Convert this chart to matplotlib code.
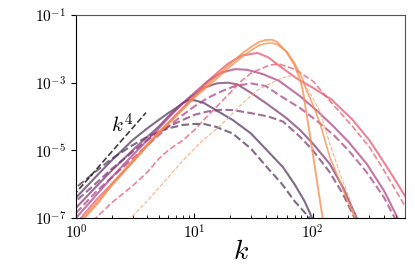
import numpy as np
import matplotlib
matplotlib.use("Agg")
import matplotlib.pyplot as plt
from matplotlib.ticker import FuncFormatter, LogLocator, NullFormatter, FixedLocator

plt.rcParams['mathtext.fontset'] = 'cm'
plt.rcParams['font.family'] = ['DejaVu Serif']

# ---- data (k, log10 E) ----
A_k = [0.9, 1, 1.5, 2, 3, 4, 5, 6, 7, 8, 9, 10, 12, 15, 21, 30, 41, 56, 70, 85, 100]
A_lg = [-6.6, -6.4, -5.75, -5.3, -4.7, -4.35, -4.1, -3.9, -3.75, -3.6, -3.52, -3.52, -3.6, -3.8, -4.1, -4.5, -5.0, -5.5, -6.0, -6.5, -7.05]

A2_k = [0.9, 1, 1.5, 2, 3, 4, 5, 6, 8, 10, 12, 15, 21, 30, 41, 55, 70, 94, 100]
A2_lg = [-6.3, -6.1, -5.6, -5.25, -4.85, -4.6, -4.45, -4.35, -4.25, -4.22, -4.22, -4.3, -4.5, -4.95, -5.5, -6.0, -6.5, -7.0, -7.15]

B_k = [0.9, 1, 1.5, 2, 3, 4, 5, 6, 8, 10, 12, 15.5, 19, 23, 30, 40, 60, 78, 100, 139, 180, 235, 250]
B_lg = [-6.9, -6.7, -6.05, -5.6, -5.0, -4.6, -4.3, -4.0, -3.6, -3.35, -3.15, -3.02, -3.0, -3.05, -3.3, -3.6, -4.05, -4.4, -4.8, -5.4, -6.1, -7.0, -7.2]

B2_k = [0.9, 1, 1.5, 2, 3, 4, 5, 6, 8, 10, 13, 17, 21, 30, 42, 56, 78, 100, 139, 180, 225, 240]
B2_lg = [-6.7, -6.5, -5.95, -5.55, -5.05, -4.7, -4.45, -4.3, -4.1, -3.95, -3.85, -3.8, -3.81, -3.9, -4.0, -4.15, -4.6, -5.0, -5.65, -6.3, -7.0, -7.2]

C_k = [0.95, 1, 1.5, 2, 3, 4, 5, 6, 8, 10, 13, 17, 22, 28, 38, 52, 78, 110, 150, 200, 285, 400, 520, 550]
C_lg = [-7.1, -7.0, -6.3, -5.8, -5.15, -4.7, -4.35, -4.05, -3.6, -3.3, -2.95, -2.7, -2.6, -2.62, -2.75, -2.95, -3.4, -3.85, -4.3, -4.75, -5.4, -6.2, -7.0, -7.2]

C2_k = [1, 1.1, 1.5, 2, 3, 4, 5, 6, 8, 10, 13, 17, 22, 30, 40, 52, 78, 110, 150, 200, 285, 400, 500, 530]
C2_lg = [-6.85, -6.7, -6.2, -5.8, -5.25, -4.85, -4.55, -4.3, -3.95, -3.7, -3.45, -3.25, -3.1, -3.02, -3.1, -3.37, -3.75, -4.15, -4.55, -5.0, -5.65, -6.4, -7.05, -7.2]

D_k = [1.05, 1.1, 1.5, 2, 3, 4, 5, 7, 10, 14, 19, 25, 34, 42, 52, 75, 100, 144, 217, 300, 389, 480, 600]
D_lg = [-7.1, -7.0, -6.45, -6.0, -5.35, -4.85, -4.5, -3.95, -3.4, -2.85, -2.45, -2.2, -2.12, -2.25, -2.5, -2.9, -3.15, -3.5, -4.1, -4.7, -5.3, -5.8, -6.35]

D2_k = [1.4, 1.47, 2, 3, 4, 5, 6, 8, 10, 12, 16, 20, 24, 30, 43, 52, 70, 100, 144, 217, 300, 400, 600]
D2_lg = [-7.1, -7.0, -6.55, -6.05, -5.65, -5.25, -5.0, -4.7, -4.4, -4.1, -3.65, -3.3, -3.0, -2.72, -2.48, -2.45, -2.6, -2.95, -3.6, -4.3, -4.9, -5.6, -6.65]

E1_k = [1.1, 1.15, 1.5, 2, 3, 5, 7, 10, 15, 20, 25, 30, 35, 40, 45, 50, 60, 70, 78, 82, 90, 100, 110, 121, 130]
E1_lg = [-7.1, -7.0, -6.55, -6.0, -5.3, -4.45, -3.95, -3.4, -2.85, -2.45, -2.15, -1.95, -1.8, -1.74, -1.73, -1.8, -2.1, -2.48, -2.92, -3.2, -4.08, -5.1, -6.06, -7.0, -7.7]

E2_k = [1.1, 1.15, 1.5, 2, 3, 5, 7, 10, 15, 20, 25, 30, 35, 40, 45, 50, 60, 70, 80, 88, 100, 115, 139, 170, 200, 226, 240]
E2_lg = [-7.15, -7.05, -6.6, -6.05, -5.35, -4.5, -4.0, -3.45, -2.92, -2.53, -2.25, -2.05, -1.9, -1.84, -1.83, -1.87, -2.08, -2.42, -2.8, -3.2, -3.65, -4.2, -5.2, -5.95, -6.55, -7.0, -7.3]

E3_k = [2.8, 2.9, 4, 6, 8, 11, 15, 18.6, 25.6, 35, 45, 56, 68, 80, 90, 100, 115, 139, 170, 200, 230]
E3_lg = [-7.1, -7.0, -6.5, -5.8, -5.3, -4.8, -4.4, -4.1, -3.6, -3.2, -3.0, -2.85, -2.78, -2.95, -3.2, -3.45, -3.85, -4.8, -5.7, -6.35, -7.0]

k4_k = [0.95, 3.9]
k4_amp = 10 ** -6.25

y_ticks = [1e-7, 1e-5, 1e-3, 1e-1]

# ---- styling ----
colors = {'A': '#4a2c57', 'B': '#7a2f6e', 'C': '#a83a80', 'D': '#e4506a', 'E': '#f68b4a'}

fig = plt.figure(figsize=(4.15, 2.77), dpi=100)
ax = fig.add_axes([76/415, 1-218/277, (405-76)/415, (218-15)/277])

def draw(k, lg, c, ls='-', lw=1.5, alpha=0.7):
    ax.plot(k, 10 ** np.array(lg), color=c, ls=ls, lw=lw, alpha=alpha)

draw(A_k, A_lg, colors['A'])
draw(A2_k, A2_lg, colors['A'], ls='--')
draw(B_k, B_lg, colors['B'])
draw(B2_k, B2_lg, colors['B'], ls='--')
draw(C_k, C_lg, colors['C'])
draw(C2_k, C2_lg, colors['C'], ls='--')
draw(D_k, D_lg, colors['D'])
draw(D2_k, D2_lg, colors['D'], ls='--', lw=1.2)
draw(E1_k, E1_lg, colors['E'], lw=1.4, alpha=0.75)
draw(E2_k, E2_lg, colors['E'], lw=1.2, alpha=0.75)
draw(E3_k, E3_lg, '#fb9f6b', ls='--', lw=0.8, alpha=0.8)

kk = np.array(k4_k)
ax.plot(kk, k4_amp * kk ** 4, color='k', ls='--', lw=1.2, alpha=0.75)
ax.text(2.45, 10 ** -4.25, r'$k^4$', fontsize=15, ha='center', va='center')

ax.set_xscale('log')
ax.set_yscale('log')
ax.set_xlim(1, 600)
ax.set_ylim(1e-7, 1e-1)

fmt = FuncFormatter(lambda v, p: r'$10^{%d}$' % int(round(np.log10(v))))
ax.xaxis.set_major_locator(FixedLocator([1, 10, 100]))
ax.xaxis.set_major_formatter(fmt)
ax.xaxis.set_minor_locator(LogLocator(base=10, subs=np.arange(2, 10), numticks=20))
ax.xaxis.set_minor_formatter(NullFormatter())
ax.yaxis.set_major_locator(FixedLocator(y_ticks))
ax.yaxis.set_major_formatter(fmt)
ax.yaxis.set_minor_locator(plt.NullLocator())
ax.tick_params(axis='both', which='major', labelsize=11, length=3.5, width=0.8)
ax.tick_params(axis='x', which='both', direction='in')
ax.tick_params(axis='x', which='major', pad=4)
ax.tick_params(axis='x', which='minor', length=2.5, width=0.6)
ax.set_xlabel(r'$k$', fontsize=20, labelpad=-2.5)
for s in ['top', 'right']:
    ax.spines[s].set_color('#555555')

fig.savefig('out.png', dpi=100)
